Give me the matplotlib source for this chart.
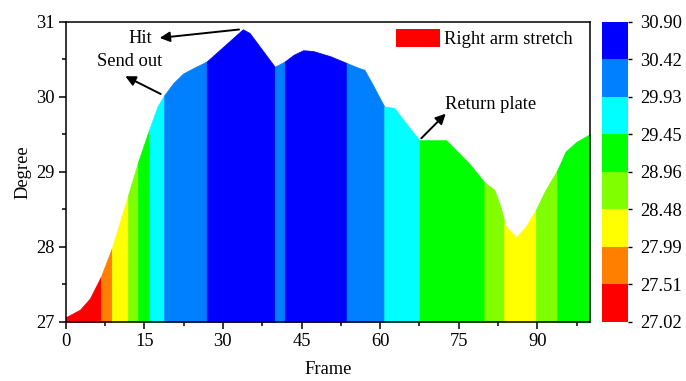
import numpy as np
import matplotlib
matplotlib.use("Agg")
from matplotlib import pyplot as plt
from matplotlib import colors as mcolors
from matplotlib.colorbar import ColorbarBase
from matplotlib.patches import Patch
from matplotlib.ticker import MultipleLocator

plt.rcParams["font.family"] = ["Liberation Serif", "DejaVu Serif"]
plt.rcParams["font.size"] = 13.3

# Right arm angle per frame
frames = [0, 2.7, 4.6, 6.7, 8.8, 10.4, 11.9, 13.8, 15.9, 17.5, 18.8, 20.5, 22.4, 24.3,
          26.9, 33.8, 35.1, 39.9, 41.8, 43.5, 45.3, 47.2, 50.5, 53.6, 56.1, 57.0,
          58.6, 60.8, 62.7, 65.0, 67.5, 72.6, 77.0, 79.9, 81.8, 83.0, 84.0, 86.0,
          87.8, 89.7, 91.5, 93.8, 95.4, 97.5, 100]
degrees = [27.06, 27.16, 27.31, 27.60, 27.98, 28.35, 28.69, 29.13, 29.56, 29.87, 30.02,
           30.18, 30.31, 30.38, 30.47, 30.90, 30.85, 30.40, 30.47, 30.56, 30.62, 30.61,
           30.54, 30.45, 30.38, 30.36, 30.16, 29.87, 29.85, 29.64, 29.42, 29.42, 29.11,
           28.86, 28.76, 28.53, 28.27, 28.13, 28.27, 28.49, 28.75, 29.02, 29.27, 29.40,
           29.50]

# colour bands along the frame axis and the level each band belongs to
band_edges = [0, 6.7, 8.8, 11.9, 13.8, 15.9, 18.8, 26.9, 39.9, 41.8, 53.6, 60.8,
              67.5, 79.9, 83.7, 89.7, 93.8, 100]
band_values = [27.25, 27.80, 28.30, 28.90, 29.35, 29.80, 30.25, 30.70, 30.41, 30.55,
               30.20, 29.65, 29.20, 28.70, 28.30, 28.75, 29.25]

levels = [27.02, 27.51, 27.99, 28.48, 28.96, 29.45, 29.93, 30.42, 30.90]
level_colors = ["#ff0000", "#ff8000", "#ffff00", "#80ff00", "#00ff00", "#00ffff",
                "#0080ff", "#0000ff"]

cmap = mcolors.ListedColormap(level_colors)
norm = mcolors.BoundaryNorm(levels, cmap.N)

fig = plt.figure(figsize=(6.86, 3.81), dpi=100)
ax = fig.add_axes([0.0958, 0.1556, 0.7638, 0.7874])
cax = fig.add_axes([0.8776, 0.1556, 0.0379, 0.7874])

frames_arr = np.array(frames)
for a, b, v in zip(band_edges[:-1], band_edges[1:], band_values):
    inner = frames_arr[(frames_arr > a) & (frames_arr < b)]
    xs = np.concatenate([[a], inner, [b]])
    ys = np.interp(xs, frames, degrees)
    c = cmap(norm(v))
    ax.fill_between(xs, ys, 27, facecolor=c, edgecolor=c, linewidth=0.5)

ax.set_xlim(0, 100)
ax.set_ylim(27, 31)
ax.xaxis.set_major_locator(MultipleLocator(15))
ax.xaxis.set_minor_locator(MultipleLocator(7.5))
ax.yaxis.set_major_locator(MultipleLocator(1))
ax.yaxis.set_minor_locator(MultipleLocator(0.5))
ax.tick_params(which="major", direction="out", length=5, width=1.1, pad=3)
ax.tick_params(which="minor", direction="out", length=3, width=1.1)
for s in ax.spines.values():
    s.set_linewidth(1.1)
ax.set_xlabel("Frame", labelpad=8)
ax.set_ylabel("Degree", labelpad=3)

# movement phases
arrow = dict(arrowstyle="-|>", color="black", lw=1.4, mutation_scale=15)
ax.text(14.15, 30.78, "Hit", ha="center", va="center")
ax.annotate("", xy=(17.4, 30.78), xytext=(33.6, 30.90), arrowprops=arrow)
ax.text(12.25, 30.47, "Send out", ha="center", va="center")
ax.annotate("", xy=(10.9, 30.29), xytext=(18.6, 30.02), arrowprops=arrow)
ax.text(72.4, 29.89, "Return plate", ha="left", va="center")
ax.annotate("", xy=(72.9, 29.80), xytext=(67.5, 29.42), arrowprops=arrow)

ax.legend(handles=[Patch(facecolor="#ff0000", edgecolor="none", label="Right arm stretch")],
          loc="upper left", bbox_to_anchor=(0.630, 0.975), frameon=False,
          borderpad=0, borderaxespad=0, handlelength=2.4, handleheight=1.1,
          handletextpad=0.2)

cb = ColorbarBase(cax, cmap=cmap, norm=norm, boundaries=levels, ticks=levels,
                  spacing="uniform", format="%.2f")
cb.outline.set_visible(False)
cax.tick_params(direction="out", length=3, width=1.0, pad=6)

fig.savefig("out.png", dpi=100)
